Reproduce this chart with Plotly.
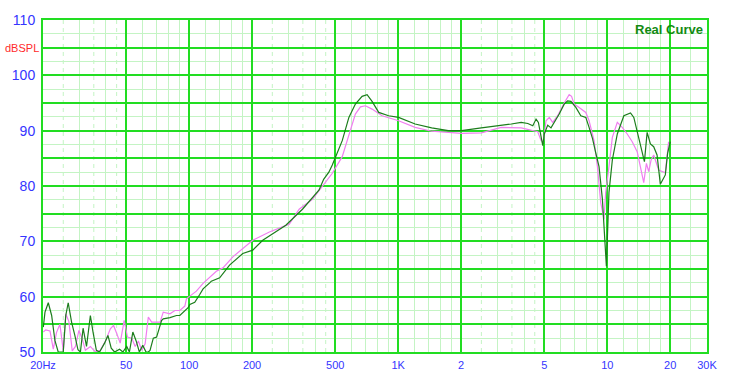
import plotly.graph_objects as go

# ---- data ----
green_freq = [20.07, 20.44, 21.2, 22.0, 22.8, 23.65, 25.0, 25.7, 26.4, 27.4, 28.4, 29.4, 30.2, 31.1, 32.3,
              33.7, 34.7, 36.0, 37.3, 39.4, 40.9, 42.4, 44.0, 46.5, 48.2, 50.3, 51.8, 53.8, 55.8, 57.8,
              60.0, 62.2, 63.8, 65.0, 67.4, 69.9, 73.8, 75.2, 81.0, 87.0, 90.3, 93.7, 98.9, 100.8, 106.4,
              112.4, 116.6, 125.4, 127.7, 140.0, 156.1, 180.6, 201.5, 224.9, 290.1, 348.4, 403.2, 418.5,
              440, 466, 484, 502, 540, 581, 624, 672, 710, 750, 807, 900, 1004, 1205, 1446, 1737, 2009,
              2500, 3112, 3474, 3876, 4170, 4404, 4566, 4684, 4824, 4916, 5000, 5190, 5382, 5580, 5892,
              6224, 6460, 6700, 7076, 7474, 7896, 8186, 8498, 8810, 9134, 9480, 9722, 9904, 10012, 10190,
              10576, 11170, 12006, 12920, 13398, 14152, 14686, 15060, 15514, 16086, 16678, 17308, 17946,
              18956, 19438, 20020]
green_db = [54.5, 57.2, 58.9, 56.6, 52.1, 50.0, 50.0, 56.6, 58.9, 55.4, 53.0, 50.4, 50.0, 54.3, 51.0,
            56.6, 53.6, 50.3, 50.0, 51.6, 53.0, 50.7, 50.0, 50.5, 50.0, 51.0, 50.0, 53.6, 52.0, 50.0,
            51.2, 50.0, 50.0, 50.3, 52.5, 52.7, 55.7, 56.0, 56.2, 56.6, 56.6, 57.2, 58.0, 58.6, 59.0,
            60.4, 61.4, 62.5, 62.8, 63.4, 65.7, 67.8, 68.4, 70.2, 72.9, 75.8, 78.5, 79.3,
            81.2, 82.5, 83.8, 85.2, 88.2, 92.4, 94.8, 96.2, 96.5, 95.3, 93.3, 92.7, 92.4, 91.2, 90.5, 90.0, 90.0,
            90.5, 90.9, 91.2, 91.5, 91.3, 90.9, 92.1, 91.5, 88.8, 87.3, 89.4, 91.0, 90.5, 91.5, 93.0,
            94.8, 95.4, 95.3, 94.2, 92.7, 92.4, 90.6, 88.6, 86.0, 83.5, 77.6, 71.7, 65.5, 70.5, 78.8,
            84.7, 89.4, 92.7, 93.2, 92.4, 88.8, 85.9, 84.4, 89.7, 87.6, 87.1, 85.6, 80.3,
            82.0, 85.9, 88.0]

pink_freq = [20.07, 20.6, 21.6, 22.4, 23.2, 24.1, 25.0, 25.7, 26.6, 27.6, 28.6, 29.7, 30.75, 31.9, 33.7,
             35.6, 37.6, 39.7, 42.0, 43.5, 45.1, 46.8, 48.9, 50.7, 53.2, 55.2, 57.2, 59.3, 61.6, 63.8,
             66.2, 72.6, 75.2, 81.0, 85.5, 90.3, 95.4, 97.1, 100.8, 108.3, 116.6, 134.9, 145.1, 161.9,
             201.5, 242.0, 301.2, 336, 388.8, 449.6, 484, 540, 581, 624, 660, 697, 750, 837, 1004, 1205,
             1446, 2009, 2500, 3112, 3876, 4324, 4652, 4824, 4948, 5094, 5282, 5484, 5790, 6224, 6574,
             6750, 6946, 7336, 7896, 8186, 8648, 8974, 9306, 9648, 9830, 10190, 10576, 11170, 11798,
             12462, 13164, 13906, 14416, 14946, 15394, 15788, 16208, 16678, 17614, 18284, 18956, 19654]
pink_db = [53.6, 54.0, 53.8, 50.5, 53.5, 55.0, 50.2, 56.9, 55.5, 50.2, 51.0, 53.9, 52.5, 50.3, 51.0,
           50.0, 50.3, 51.9, 54.2, 54.8, 53.3, 51.6, 55.7, 52.7, 52.5, 51.0, 52.0, 50.3, 51.5, 56.3,
           55.4, 55.4, 57.2, 56.9, 57.5, 57.5, 58.3, 59.6, 60.1, 61.0, 62.4, 64.6, 65.2, 67.2,
           70.2, 71.7, 73.1, 75.8, 77.6, 80.6, 82.3, 85.3, 89.4, 93.0, 94.3, 94.5, 93.9, 92.7, 91.8, 90.6,
           89.9, 89.5, 89.6, 90.6, 90.5, 90.0, 89.8, 88.2, 88.0, 91.8, 92.4, 91.5, 92.7, 95.0, 96.5,
           96.2, 94.8, 94.2, 93.3, 91.8, 88.2, 83.5, 77.0, 74.0, 78.8, 83.5, 88.8, 91.5, 90.6,
           89.4, 88.0, 86.2, 83.5, 80.6, 84.1, 82.6, 84.7, 85.6, 82.9, 82.6, 82.4, 88.0]

x_major = [20, 50, 100, 200, 500, 1000, 2000, 5000, 10000, 20000, 30000]
x_major_text = ["20Hz", "50", "100", "200", "500", "1K", "2", "5", "10", "20", "30K"]
x_minor = [30, 40, 60, 70, 80, 90, 120, 140, 160, 180, 300, 400, 600, 700, 800, 900,
           1200, 1400, 1600, 1800, 3000, 4000, 6000, 7000, 8000, 9000,
           12000, 14000, 16000, 18000, 25000]
x_dashed = [25, 35, 45, 250, 350, 450, 2500, 3500, 4500]
y_major = [50, 55, 60, 65, 70, 75, 80, 85, 90, 95, 100, 105, 110]
y_major_text = ["50", "", "60", "", "70", "", "80", "", "90", "", "100", "", "110"]
y_minor = [52.5, 57.5, 62.5, 67.5, 72.5, 77.5, 82.5, 87.5, 92.5, 97.5, 102.5, 107.5]

BRIGHT = "#22dd22"
LIGHT = "#c4f4c4"
BLUE = "#3535ff"

fig = go.Figure()
fig.add_trace(go.Scatter(x=pink_freq, y=pink_db, mode="lines",
                         line=dict(color="#f07ef0", width=1.2), showlegend=False))
fig.add_trace(go.Scatter(x=green_freq, y=green_db, mode="lines",
                         line=dict(color="#1b7d1b", width=1.2), showlegend=False))

for f in x_dashed:
    fig.add_shape(type="line", xref="x", yref="paper", x0=f, x1=f, y0=0, y1=1,
                  line=dict(color=LIGHT, width=1, dash="4px,4px"), layer="below")

fig.update_layout(
    width=742, height=384,
    margin=dict(l=39, r=35, t=14, b=32),
    paper_bgcolor="white", plot_bgcolor="white",
    font=dict(family="Liberation Sans, Arial, sans-serif"),
    xaxis=dict(type="log", range=[1.30103, 4.4771213],
               tickvals=x_major, ticktext=x_major_text,
               showgrid=True, gridcolor=BRIGHT, gridwidth=1.6,
               minor=dict(tickvals=x_minor, showgrid=True, gridcolor=LIGHT, gridwidth=1, ticklen=0),
               ticks="", ticklabelstandoff=2,
               tickfont=dict(size=11, color=BLUE),
               showline=True, linecolor=BRIGHT, linewidth=2, mirror=True, zeroline=False),
    yaxis=dict(range=[50, 110], tickvals=y_major, ticktext=y_major_text,
               showgrid=True, gridcolor=BRIGHT, gridwidth=1.6,
               minor=dict(tickvals=y_minor, showgrid=True, gridcolor=LIGHT, gridwidth=1, ticklen=0),
               ticks="", ticklabelstandoff=3,
               tickfont=dict(size=14, color=BLUE),
               showline=True, linecolor=BRIGHT, linewidth=2, mirror=True, zeroline=False),
    annotations=[
        dict(text="<b>Real Curve</b>", xref="paper", yref="paper", x=1, y=1,
             xanchor="right", yanchor="middle", xshift=-2, yshift=-9, showarrow=False,
             font=dict(size=13, color="#138a13")),
        dict(text="dBSPL", xref="paper", yref="y", x=0, y=105, xanchor="right", yanchor="middle",
             xshift=-2, showarrow=False, font=dict(size=11, color="#ff2a2a")),
    ],
)

fig.write_html("out.html")
